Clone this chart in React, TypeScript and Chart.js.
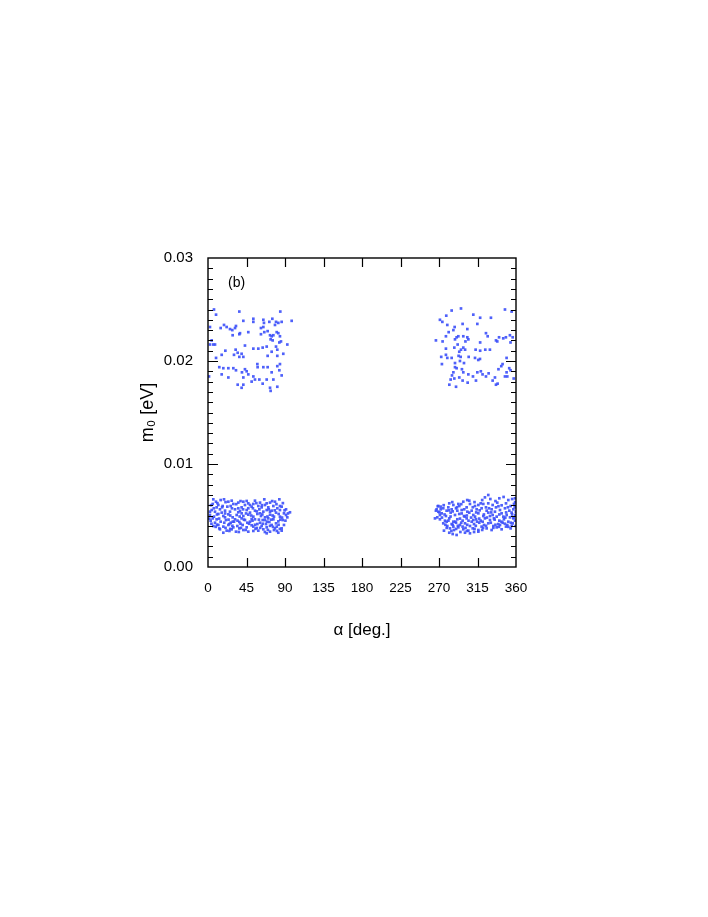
import React, { useEffect, useRef } from "react";
import { Chart, registerables } from "chart.js";

Chart.register(...registerables);

// alpha [deg], m0 [eV]
const upperLeft: [number, number][] = [
  [7.0,0.0250],[9.4,0.0245],[36.6,0.0248],[84.5,0.0248],[53.0,0.0241],[53.0,0.0238],[41.3,0.0239],[64.7,0.0240],[65.4,0.0237],[71.7,0.0238],
  [75.2,0.0241],[79.5,0.0238],[82.2,0.0237],[86.1,0.0238],[97.8,0.0239],[2.3,0.0233],[14.8,0.0232],[18.7,0.0235],[21.8,0.0233],[25.7,0.0231],
  [28.4,0.0230],[31.6,0.0232],[32.7,0.0234],[37.4,0.0227],[47.1,0.0228],[61.9,0.0232],[64.7,0.0233],[65.8,0.0228],[69.7,0.0229],[78.3,0.0235],
  [80.3,0.0228],[82.2,0.0227],[72.5,0.0225],[74.4,0.0224],[76.4,0.0225],[73.2,0.0221],[75.6,0.0220],[61.9,0.0226],[28.8,0.0225],[36.6,0.0226],
  [84.1,0.0224],[85.3,0.0219],[83.4,0.0218],[92.7,0.0216],[4.3,0.0220],[6.2,0.0216],[2.3,0.0216],[8.2,0.0216],[43.2,0.0215],[53.0,0.0212],
  [58.8,0.0212],[63.9,0.0213],[68.6,0.0214],[79.5,0.0214],[81.0,0.0211],[74.4,0.0209],[32.3,0.0211],[34.7,0.0208],[36.6,0.0204],[39.3,0.0207],
  [41.3,0.0204],[30.4,0.0206],[20.3,0.0210],[16.0,0.0206],[9.4,0.0203],[88.0,0.0207],[81.0,0.0205],[69.7,0.0205],[13.2,0.0194],[17.9,0.0193],
  [23.8,0.0193],[29.6,0.0193],[32.7,0.0191],[39.7,0.0189],[43.2,0.0192],[45.2,0.0190],[57.7,0.0197],[58.0,0.0194],[64.7,0.0194],[69.7,0.0194],
  [81.0,0.0195],[84.1,0.0197],[83.4,0.0191],[74.4,0.0189],[86.1,0.0186],[16.0,0.0187],[1.2,0.0185],[23.8,0.0184],[41.3,0.0184],[47.1,0.0187],
  [53.0,0.0185],[54.9,0.0182],[60.0,0.0182],[63.9,0.0178],[68.6,0.0182],[76.4,0.0182],[51.0,0.0180],[34.7,0.0177],[39.3,0.0174],[41.3,0.0177],
  [72.5,0.0174],[73.2,0.0171],[81.0,0.0175],
];

const upperRight: [number, number][] = [
  [295.7,0.0251],[284.8,0.0249],[278.5,0.0244],[310.1,0.0245],[347.1,0.0250],[354.9,0.0248],[318.1,0.0242],[330.7,0.0242],[271.1,0.0240],[273.9,0.0238],
  [279.7,0.0235],[297.6,0.0236],[314.8,0.0236],[286.8,0.0230],[281.3,0.0228],[288.3,0.0233],[303.1,0.0231],[324.9,0.0227],[326.9,0.0224],[298.4,0.0224],
  [292.6,0.0224],[290.6,0.0223],[278.1,0.0224],[288.7,0.0221],[303.1,0.0223],[304.3,0.0221],[340.2,0.0223],[345.1,0.0222],[348.2,0.0223],[352.9,0.0225],
  [356.1,0.0223],[336.6,0.0220],[338.1,0.0219],[266.4,0.0220],[274.2,0.0219],[300.9,0.0219],[318.1,0.0218],[291.8,0.0216],[353.6,0.0218],[278.1,0.0212],
  [287.9,0.0213],[298.4,0.0213],[293.7,0.0209],[295.7,0.0211],[300.5,0.0211],[312.8,0.0211],[318.1,0.0210],[324.1,0.0211],[329.5,0.0211],[292.9,0.0205],
  [278.1,0.0206],[272.6,0.0204],[279.7,0.0203],[284.8,0.0203],[295.3,0.0204],[304.7,0.0204],[312.1,0.0203],[315.9,0.0201],[317.9,0.0202],[288.7,0.0198],
  [294.5,0.0200],[299.2,0.0198],[273.4,0.0197],[288.7,0.0194],[290.6,0.0193],[296.8,0.0192],[344.3,0.0197],[342.8,0.0195],[349.0,0.0203],[352.1,0.0193],
  [353.6,0.0191],[349.0,0.0189],[339.5,0.0192],[286.8,0.0189],[285.2,0.0186],[318.9,0.0190],[320.9,0.0187],[314.8,0.0189],[324.9,0.0185],[328.0,0.0188],
  [309.7,0.0185],[304.3,0.0187],[298.4,0.0189],[293.7,0.0184],[287.9,0.0183],[283.6,0.0182],[297.6,0.0181],[303.5,0.0179],[313.2,0.0181],[335.4,0.0184],
  [332.7,0.0181],[347.1,0.0185],[349.8,0.0185],[357.3,0.0183],[338.5,0.0178],[336.6,0.0177],[282.1,0.0177],[289.9,0.0175],
];

const lowerLeft: [number, number][] = [
  [6.2,0.00657],[14.8,0.00650],[18.7,0.00657],[27.7,0.00644],[41.3,0.00634],[45.2,0.00641],[47.1,0.00618],[60.8,0.00625],[65.8,0.00657],[68.6,0.00618],
  [72.5,0.00625],[83.4,0.00657],[84.1,0.00592],[5.5,0.00612],[12.1,0.00602],[17.1,0.00592],[22.6,0.00586],[29.6,0.00612],[35.4,0.00570],[39.3,0.00579],
  [43.2,0.00602],[51.0,0.00586],[53.0,0.00612],[58.8,0.00592],[62.7,0.00579],[70.5,0.00579],[76.4,0.00592],[81.0,0.00570],[86.1,0.00586],[4.3,0.00553],
  [8.2,0.00537],[14.0,0.00560],[19.9,0.00547],[25.7,0.00537],[31.6,0.00560],[37.4,0.00544],[45.2,0.00553],[49.1,0.00528],[54.9,0.00547],[60.0,0.00560],
  [64.7,0.00537],[68.6,0.00553],[74.4,0.00547],[79.5,0.00528],[84.1,0.00553],[88.8,0.00521],[95.8,0.00531],[2.3,0.00505],[7.0,0.00489],[12.1,0.00515],
  [17.9,0.00495],[23.8,0.00511],[28.8,0.00482],[33.5,0.00505],[41.3,0.00495],[47.1,0.00508],[53.0,0.00489],[57.7,0.00515],[61.9,0.00495],[66.6,0.00482],
  [72.5,0.00508],[77.1,0.00489],[82.6,0.00515],[91.2,0.00505],[3.1,0.00450],[10.1,0.00463],[14.8,0.00440],[21.0,0.00456],[26.5,0.00430],[31.6,0.00463],
  [36.6,0.00437],[43.2,0.00456],[49.1,0.00440],[54.9,0.00463],[60.8,0.00430],[66.6,0.00456],[71.7,0.00437],[76.4,0.00463],[82.2,0.00443],[87.3,0.00456],
  [6.2,0.00398],[12.1,0.00408],[17.9,0.00392],[23.8,0.00408],[29.6,0.00385],[34.3,0.00398],[40.5,0.00408],[45.2,0.00385],[51.0,0.00405],[56.9,0.00379],
  [62.7,0.00398],[68.6,0.00385],[74.4,0.00408],[80.3,0.00392],[86.1,0.00375],[14.0,0.00366],[21.8,0.00353],[27.7,0.00366],[32.7,0.00343],[41.3,0.00359],
  [58.8,0.00353],[64.7,0.00366],[72.5,0.00343],[77.1,0.00359],[82.2,0.00333],[86.1,0.00353],[9.3,0.00634],[23.8,0.00634],[35.4,0.00625],[54.9,0.00644],
  [78.3,0.00634],[10.1,0.00579],[26.5,0.00592],[47.1,0.00570],[66.6,0.00602],[91.2,0.00560],[16.0,0.00528],[35.4,0.00531],[60.8,0.00521],[84.1,0.00489],
  [5.5,0.00472],[19.9,0.00482],[39.3,0.00472],[51.0,0.00466],[70.5,0.00472],[92.7,0.00482],[8.2,0.00430],[24.9,0.00417],[46.0,0.00430],[57.7,0.00417],
  [79.5,0.00424],[13.2,0.00375],[36.6,0.00375],[53.0,0.00392],[67.8,0.00417],[88.8,0.00408],[17.9,0.00333],[47.1,0.00343],[68.6,0.00327],[78.3,0.00375],
  [30.4,0.00440],[39.3,0.00521],[63.9,0.00456],[49.1,0.00602],[72.5,0.00537],[2.3,0.00537],
  [3.5,0.0060],[11.0,0.0062],[20.5,0.0063],[33.0,0.0061],[38.0,0.0064],[56.5,0.0062],[63.0,0.0060],[75.0,0.0064],[80.0,0.0061],[87.5,0.0062],
  [6.8,0.0057],[16.5,0.0058],[28.0,0.0057],[41.0,0.0056],[52.5,0.0057],[57.0,0.0054],[71.0,0.0056],[78.0,0.0055],[89.5,0.0055],[93.5,0.0052],
  [10.5,0.0051],[20.0,0.0052],[26.0,0.0050],[37.0,0.0049],[44.5,0.0052],[50.5,0.0050],[63.5,0.0051],[69.5,0.0049],[75.5,0.0050],[86.5,0.0048],
  [1.5,0.0047],[13.0,0.0047],[24.0,0.0046],[29.0,0.0044],[34.5,0.0045],[42.0,0.0046],[52.0,0.0045],[59.5,0.0046],[69.0,0.0044],[74.0,0.0046],
  [84.5,0.0046],[90.5,0.0045],[4.0,0.0042],[10.5,0.0041],[19.0,0.0043],[28.5,0.0040],[38.0,0.0042],[48.0,0.0042],[55.0,0.0041],[64.0,0.0042],
  [72.5,0.0040],[82.5,0.0041],[9.0,0.0039],[20.5,0.0038],[26.0,0.0037],[38.5,0.0038],[44.0,0.0036],[55.5,0.0037],[61.0,0.0038],[70.0,0.0036],
  [76.0,0.0039],[84.0,0.0037],[25.0,0.0035],[36.0,0.0034],[53.0,0.0035],[66.5,0.0034],[80.5,0.0035],
];

const lowerRight: [number, number][] = [
  [327.6,0.00699],[323.7,0.00676],[340.5,0.00667],[351.0,0.00650],[358.8,0.00667],[305.4,0.00644],[298.4,0.00634],[318.7,0.00618],[321.8,0.00612],[269.2,0.00592],
  [267.2,0.00560],[271.9,0.00586],[282.0,0.00618],[286.8,0.00602],[293.7,0.00592],[306.2,0.00612],[312.1,0.00592],[316.0,0.00602],[327.6,0.00618],[332.7,0.00602],
  [338.1,0.00625],[343.2,0.00599],[348.3,0.00618],[353.7,0.00592],[357.6,0.00612],[266.4,0.00547],[275.0,0.00570],[278.9,0.00547],[284.8,0.00560],[289.9,0.00570],
  [296.5,0.00553],[302.3,0.00579],[308.2,0.00547],[314.0,0.00560],[319.8,0.00570],[325.7,0.00547],[331.5,0.00560],[336.6,0.00579],[341.3,0.00553],[347.1,0.00570],
  [352.2,0.00547],[356.9,0.00560],[268.0,0.00482],[273.1,0.00521],[278.1,0.00495],[283.6,0.00528],[288.7,0.00505],[293.7,0.00515],[299.2,0.00495],[305.4,0.00528],
  [310.1,0.00505],[316.0,0.00521],[321.8,0.00495],[327.6,0.00528],[332.7,0.00505],[337.4,0.00489],[343.2,0.00521],[349.1,0.00505],[354.9,0.00528],[359.2,0.00505],
  [271.1,0.00463],[277.0,0.00450],[282.0,0.00472],[286.8,0.00440],[291.4,0.00463],[297.6,0.00450],[302.3,0.00472],[308.2,0.00440],[313.3,0.00463],[318.7,0.00450],
  [323.7,0.00472],[329.6,0.00456],[334.2,0.00472],[340.5,0.00450],[345.9,0.00463],[351.0,0.00440],[356.9,0.00472],[275.0,0.00424],[279.7,0.00398],[284.8,0.00417],
  [289.9,0.00430],[294.5,0.00408],[300.4,0.00424],[306.2,0.00398],[310.9,0.00417],[317.1,0.00430],[322.6,0.00408],[327.6,0.00424],[333.5,0.00398],[339.3,0.00417],
  [344.4,0.00430],[349.8,0.00408],[356.1,0.00424],[359.5,0.00398],[275.8,0.00353],[282.8,0.00375],[287.5,0.00359],[292.6,0.00385],[298.4,0.00366],[304.3,0.00353],
  [309.4,0.00375],[316.0,0.00359],[325.7,0.00375],[331.5,0.00359],[337.4,0.00385],[343.2,0.00366],[348.3,0.00392],[353.7,0.00375],[282.0,0.00333],[286.0,0.00320],
  [290.6,0.00311],[300.4,0.00333],[306.2,0.00327],[316.0,0.00343],[265.3,0.00472],[269.2,0.00537],[280.9,0.00579],[291.4,0.00547],[303.1,0.00537],[312.1,0.00489],
  [324.9,0.00579],[335.4,0.00537],[345.2,0.00489],[353.0,0.00482],[359.8,0.00537],[278.9,0.00440],[297.6,0.00392],[319.8,0.00392],[341.3,0.00408],[358.8,0.00450],
  [286.8,0.00392],[310.1,0.00456],[329.6,0.00495],[292.6,0.00612],[271.1,0.00505],
  [268.5,0.0059],[275.5,0.0060],[285.5,0.0063],[296.0,0.0061],[303.0,0.0065],[311.5,0.0063],[320.5,0.0065],[330.0,0.0066],[336.0,0.0064],[345.5,0.0068],
  [355.5,0.0066],[359.0,0.0063],[272.0,0.0056],[281.5,0.0055],[291.0,0.0058],[299.5,0.0056],[309.5,0.0058],[317.5,0.0055],[328.5,0.0057],[339.5,0.0059],
  [350.5,0.0058],[358.5,0.0058],[270.5,0.0053],[276.5,0.0051],[286.0,0.0054],[296.5,0.0052],[302.5,0.0050],[313.5,0.0053],[322.5,0.0051],[331.0,0.0053],
  [340.5,0.0051],[348.5,0.0053],[355.5,0.0051],[273.5,0.0048],[283.5,0.0049],[294.5,0.0047],[300.0,0.0049],[307.5,0.0048],[317.0,0.0047],[326.0,0.0048],
  [335.0,0.0046],[347.5,0.0048],[357.5,0.0048],[281.0,0.0045],[289.0,0.0044],[296.0,0.0043],[304.5,0.0045],[314.5,0.0044],[321.0,0.0044],[330.5,0.0043],
  [343.0,0.0044],[354.0,0.0043],[277.5,0.0041],[286.0,0.0041],[292.0,0.0040],[303.0,0.0041],[313.0,0.0040],[325.0,0.0040],[336.0,0.0041],[347.0,0.0042],
  [355.0,0.0040],[279.0,0.0038],[290.0,0.0037],[301.0,0.0038],[311.5,0.0037],[321.5,0.0038],[333.5,0.0038],[340.0,0.0039],[351.0,0.0039],[284.5,0.0035],
  [295.0,0.0034],[302.5,0.0035],[311.0,0.0034],[320.5,0.0036],
];

const xTickValues = [0, 45, 90, 135, 180, 225, 270, 315, 360];
const yTickValues = [0.0, 0.01, 0.02, 0.03];
const xTitle = "α [deg.]";
const yTitle = "m₀ [eV]";
const panelLabel = "(b)";

const frameTicks = {
  id: "frameTicks",
  afterDatasetsDraw(chart: any) {
    const { ctx, chartArea: a, scales } = chart;
    const xs = scales.x;
    const ys = scales.y;
    ctx.save();
    ctx.strokeStyle = "#000";
    ctx.lineWidth = 1.4;
    ctx.strokeRect(a.left, a.top, a.right - a.left, a.bottom - a.top);
    ctx.lineWidth = 1.2;
    ctx.beginPath();
    for (let i = 1; i < 30; i++) {
      const v = i / 1000;
      const p = Math.round(ys.getPixelForValue(v)) + 0.5;
      const len = i % 10 === 0 ? 10 : 5;
      ctx.moveTo(a.left, p);
      ctx.lineTo(a.left + len, p);
      ctx.moveTo(a.right, p);
      ctx.lineTo(a.right - len, p);
    }
    for (const v of xTickValues) {
      if (v === 0 || v === 360) continue;
      const p = Math.round(xs.getPixelForValue(v)) + 0.5;
      ctx.moveTo(p, a.bottom);
      ctx.lineTo(p, a.bottom - 9);
      ctx.moveTo(p, a.top);
      ctx.lineTo(p, a.top + 9);
    }
    ctx.stroke();
    ctx.fillStyle = "#000";
    ctx.font = "14px 'Liberation Sans'";
    ctx.textAlign = "left";
    ctx.textBaseline = "middle";
    ctx.fillText(panelLabel, a.left + 20, a.top + 25);
    ctx.restore();
  },
};

export default function App() {
  const ref = useRef<HTMLCanvasElement | null>(null);
  useEffect(() => {
    if (!ref.current) return;
    const toPts = (arr: [number, number][]) => arr.map(([x, y]) => ({ x, y }));
    const style = {
      pointStyle: "rect" as const,
      pointRadius: 1.9,
      pointHoverRadius: 1.9,
      backgroundColor: "rgba(60,80,250,0.9)",
      borderWidth: 0,
      showLine: false,
    };
    const chart = new Chart(ref.current, {
      type: "scatter",
      data: {
        datasets: [
          { label: "upper left", data: toPts(upperLeft), ...style },
          { label: "upper right", data: toPts(upperRight), ...style },
          { label: "lower left", data: toPts(lowerLeft), ...style },
          { label: "lower right", data: toPts(lowerRight), ...style },
        ],
      },
      options: {
        animation: false,
        responsive: true,
        maintainAspectRatio: false,
        layout: { padding: { left: 0, top: 258, right: 192, bottom: 0 } },
        plugins: { legend: { display: false }, tooltip: { enabled: false } },
        scales: {
          x: {
            type: "linear",
            position: "bottom",
            min: 0,
            max: 360,
            afterBuildTicks: (s: any) => {
              s.ticks = xTickValues.map((v) => ({ value: v }));
            },
            afterFit: (s: any) => {
              s.height = 350;
            },
            ticks: {
              color: "#000",
              font: { family: "'Liberation Sans'", size: 13.5 },
              padding: 13,
              maxRotation: 0,
              autoSkip: false,
              callback: (v: any) => String(v),
            },
            grid: { display: false, drawTicks: false },
            border: { display: false },
            title: {
              display: true,
              text: xTitle,
              color: "#000",
              font: { family: "'Liberation Sans'", size: 17 },
              padding: { top: 0, bottom: 276 },
            },
          },
          y: {
            type: "linear",
            position: "left",
            min: 0,
            max: 0.03,
            afterBuildTicks: (s: any) => {
              s.ticks = yTickValues.map((v) => ({ value: v }));
            },
            afterFit: (s: any) => {
              s.width = 208;
            },
            ticks: {
              color: "#000",
              font: { family: "'Liberation Sans'", size: 15 },
              padding: 15,
              autoSkip: false,
              callback: (v: any) => Number(v).toFixed(2),
            },
            grid: { display: false, drawTicks: false },
            border: { display: false },
            title: {
              display: true,
              text: yTitle,
              color: "#000",
              font: { family: "'Liberation Sans'", size: 18 },
              padding: { top: 137, bottom: 0 },
            },
          },
        },
      },
      plugins: [frameTicks],
    });
    return () => chart.destroy();
  }, []);
  return (
    <div style={{ position: "absolute", left: 0, top: 0, width: 708, height: 917, background: "#fff" }}>
      <canvas ref={ref} />
    </div>
  );
}
